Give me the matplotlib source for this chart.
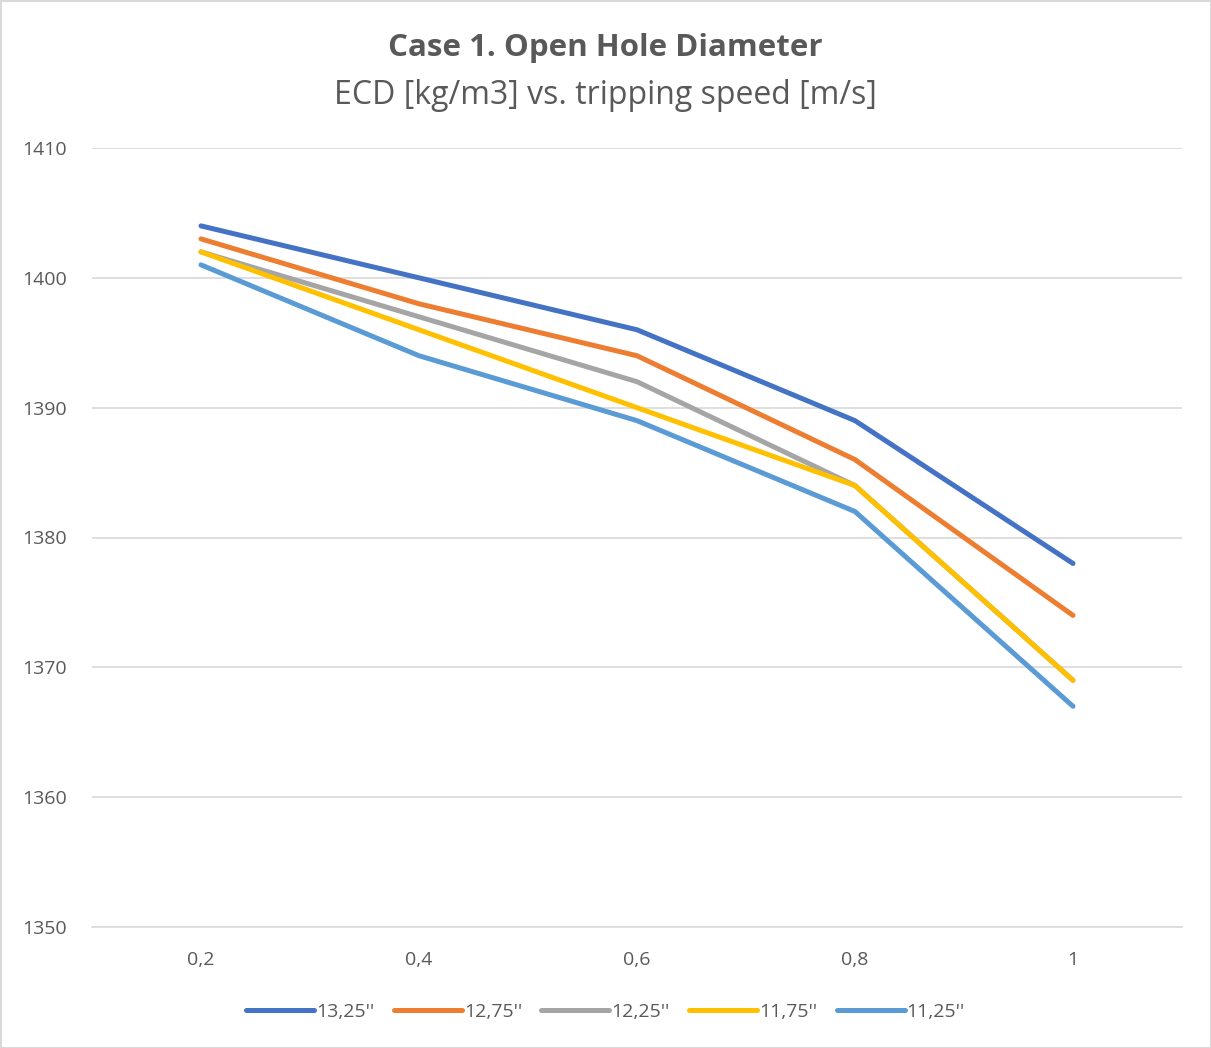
import matplotlib
matplotlib.use("Agg")
import matplotlib.pyplot as plt
from matplotlib.patches import Rectangle

plt.rcParams['font.family'] = ['Open Sans', 'DejaVu Sans']

speeds = ["0,2", "0,4", "0,6", "0,8", "1"]
series_names = ["13,25''", "12,75''", "12,25''", "11,75''", "11,25''"]
ecd_1325 = [1404, 1400, 1396, 1389, 1378]
ecd_1275 = [1403, 1398, 1394, 1386, 1374]
ecd_1225 = [1402, 1397, 1392, 1384, 1369]
ecd_1175 = [1402, 1396, 1390, 1384, 1369]
ecd_1125 = [1401, 1394, 1389, 1382, 1367]
series_values = [ecd_1325, ecd_1275, ecd_1225, ecd_1175, ecd_1125]
colors = ["#4472C4", "#ED7D31", "#A5A5A5", "#FFC000", "#5B9BD5"]
y_ticks = [1350, 1360, 1370, 1380, 1390, 1400, 1410]

fig = plt.figure(figsize=(12.11, 10.48), dpi=100)
ax = fig.add_axes([92/1211, 1-927/1048, (1182-92)/1211, (927-148)/1048])

x = list(range(len(speeds)))
for name, vals, c in zip(series_names, series_values, colors):
    ax.plot(x, vals, color=c, lw=3.6, label=name, solid_capstyle='round',
            solid_joinstyle='round')

ax.set_xlim(-0.5, len(speeds) - 0.5)
ax.set_ylim(1350, 1410)
ax.set_yticks(y_ticks)
ax.set_xticks(x)
ax.set_xticklabels(speeds)
ax.grid(axis='y', color='#D9D9D9', lw=1.2)
ax.set_axisbelow(True)
for s in ['top', 'right', 'left']:
    ax.spines[s].set_visible(False)
ax.spines['bottom'].set_color('#D9D9D9')
ax.spines['bottom'].set_linewidth(1.2)
ax.tick_params(length=0, labelsize=14, colors='#595959')
ax.tick_params(axis='x', pad=17)
ax.tick_params(axis='y', pad=18)

fig.text(0.5, 1-48/1048, "Case 1. Open Hole Diameter", ha='center', va='center',
         fontsize=22.5, fontweight='bold', color='#595959')
fig.text(0.5, 1-95/1048, "ECD [kg/m3] vs. tripping speed [m/s]", ha='center', va='center',
         fontsize=23, color='#595959')

leg = fig.legend(loc='center', bbox_to_anchor=(0.5, 1-1012/1048), ncol=5, frameon=False,
                 fontsize=14, handlelength=3.5, handletextpad=0.1, columnspacing=1.0,
                 labelcolor='#595959')

fig.patches.append(Rectangle((0.5/1211, 0.5/1048), 1-1/1211, 1-1/1048,
                             transform=fig.transFigure, fill=False,
                             edgecolor='#D9D9D9', lw=1.5))

fig.savefig("out.png", dpi=100, facecolor='white')
